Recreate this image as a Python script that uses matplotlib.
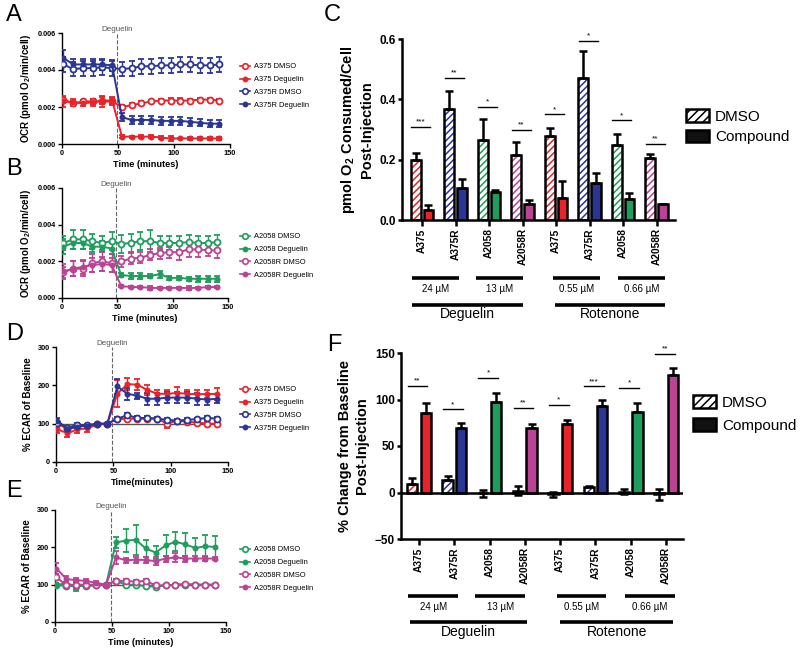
import numpy as np
import matplotlib
matplotlib.use("Agg")
import matplotlib.pyplot as plt
from matplotlib.lines import Line2D
from matplotlib.patches import Patch
from matplotlib.transforms import blended_transform_factory

plt.rcParams["font.family"] = ["Liberation Sans", "DejaVu Sans"]
plt.rcParams["mathtext.fontset"] = "custom"
plt.rcParams["mathtext.rm"] = "Liberation Sans"
plt.rcParams["mathtext.bf"] = "Liberation Sans:bold"
plt.rcParams["hatch.linewidth"] = 1.1

RED = "#e8232a"
BLUE = "#2b3594"
GREEN = "#1f9d5c"
MAG = "#bb4394"

# time points (minutes)
t = [1.3, 10.0, 18.7, 27.4, 36.1, 44.8, 53.5, 62.2, 70.9, 79.6, 88.3, 97.0, 105.7, 114.4, 123.1, 131.8, 140.5]

# ---- A: OCR (x1e-3 pmol O2/min/cell)
a375_dmso = [2.4, 2.2, 2.3, 2.3, 2.3, 2.3, 2.0, 2.1, 2.2, 2.3, 2.35, 2.35, 2.35, 2.35, 2.4, 2.4, 2.35]
a375_dmso_err = [0.15, 0.1, 0.1, 0.15, 0.3, 0.2, 0.1, 0.1, 0.1, 0.1, 0.1, 0.15, 0.15, 0.1, 0.1, 0.1, 0.1]
a375_deg = [2.3, 2.25, 2.2, 2.25, 2.35, 2.35, 0.4, 0.4, 0.4, 0.4, 0.35, 0.3, 0.3, 0.3, 0.3, 0.3, 0.3]
a375_deg_err = [0.3, 0.2, 0.15, 0.2, 0.2, 0.2, 0.1, 0.05, 0.1, 0.1, 0.1, 0.15, 0.05, 0.1, 0.1, 0.1, 0.1]
a375r_dmso = [4.3, 4.05, 4.1, 4.1, 4.15, 4.1, 4.05, 4.1, 4.2, 4.2, 4.25, 4.25, 4.3, 4.3, 4.25, 4.25, 4.3]
a375r_dmso_err = [0.4] * 17
a375r_deg = [4.65, 4.3, 4.3, 4.3, 4.3, 4.25, 1.45, 1.3, 1.3, 1.3, 1.25, 1.25, 1.25, 1.2, 1.15, 1.1, 1.1]
a375r_deg_err = [0.45, 0.3, 0.3, 0.3, 0.3, 0.3, 0.2, 0.2, 0.2, 0.2, 0.2, 0.2, 0.2, 0.2, 0.2, 0.2, 0.2]

# ---- B: OCR (x1e-3)
a2058_dmso = [3.0, 3.2, 3.2, 3.1, 3.0, 3.1, 2.95, 3.0, 3.1, 3.1, 3.0, 3.0, 3.0, 3.05, 3.0, 3.0, 3.05]
a2058_dmso_err = [0.4, 0.5, 0.5, 0.4, 0.4, 0.5, 0.5, 0.5, 0.5, 0.6, 0.4, 0.4, 0.4, 0.4, 0.4, 0.4, 0.4]
a2058_deg = [2.8, 3.0, 3.0, 2.8, 2.8, 2.7, 1.25, 1.2, 1.2, 1.2, 1.3, 1.1, 1.1, 1.05, 1.05, 1.05, 1.05]
a2058_deg_err = [0.4, 0.3, 0.3, 0.3, 0.3, 0.3, 0.1, 0.15, 0.15, 0.1, 0.2, 0.1, 0.1, 0.1, 0.15, 0.15, 0.15]
a2058r_dmso = [1.4, 1.6, 1.6, 1.9, 2.0, 1.9, 2.0, 2.15, 2.2, 2.35, 2.45, 2.5, 2.5, 2.65, 2.65, 2.6, 2.6]
a2058r_dmso_err = [0.3, 0.4, 0.4, 0.5, 0.5, 0.5, 0.3, 0.3, 0.3, 0.3, 0.3, 0.3, 0.4, 0.4, 0.4, 0.3, 0.4]
a2058r_deg = [1.45, 1.6, 1.7, 1.8, 1.85, 1.8, 0.65, 0.6, 0.6, 0.55, 0.55, 0.55, 0.55, 0.55, 0.55, 0.6, 0.6]
a2058r_deg_err = [0.4, 0.4, 0.4, 0.4, 0.4, 0.4, 0.05, 0.05, 0.05, 0.1, 0.05, 0.05, 0.05, 0.1, 0.05, 0.05, 0.05]

# ---- D: % ECAR of baseline
d_a375_dmso = [100, 87, 95, 95, 98, 100, 112, 113, 113, 113, 113, 100, 108, 105, 103, 100, 100]
d_a375_dmso_err = [8, 5, 5, 5, 3, 2, 5, 4, 4, 4, 4, 10, 5, 5, 5, 4, 4]
d_a375_deg = [85, 75, 85, 88, 98, 100, 178, 203, 202, 188, 178, 178, 180, 178, 177, 177, 178]
d_a375_deg_err = [10, 10, 10, 10, 5, 3, 35, 15, 15, 12, 10, 10, 15, 10, 10, 10, 15]
d_a375r_dmso = [103, 90, 97, 96, 100, 100, 113, 122, 115, 115, 113, 110, 108, 110, 112, 115, 113]
d_a375r_dmso_err = [5, 5, 4, 4, 3, 2, 5, 5, 4, 4, 4, 4, 4, 4, 4, 5, 5]
d_a375r_deg = [108, 85, 92, 95, 100, 100, 197, 178, 173, 165, 165, 168, 168, 168, 165, 163, 165]
d_a375r_deg_err = [8, 6, 6, 5, 3, 2, 20, 15, 8, 15, 15, 15, 15, 15, 15, 15, 12]

# ---- E: % ECAR of baseline
e_a2058_dmso = [100, 97, 96, 97, 98, 100, 110, 100, 100, 96, 95, 98, 100, 100, 100, 100, 100]
e_a2058_dmso_err = [3, 3, 12, 5, 3, 2, 4, 3, 3, 3, 5, 3, 3, 3, 3, 3, 3]
e_a2058_deg = [100, 103, 97, 97, 100, 100, 213, 218, 220, 197, 186, 205, 215, 208, 198, 203, 201]
e_a2058_deg_err = [5, 5, 8, 5, 5, 3, 15, 30, 40, 22, 18, 28, 25, 30, 28, 30, 30]
e_a2058r_dmso = [120, 98, 100, 100, 100, 100, 110, 110, 108, 110, 98, 98, 100, 102, 100, 100, 100]
e_a2058r_dmso_err = [8, 4, 4, 4, 3, 2, 5, 4, 4, 4, 3, 3, 3, 3, 3, 3, 3]
e_a2058r_deg = [143, 115, 112, 110, 105, 100, 173, 165, 167, 166, 163, 170, 173, 170, 170, 170, 170]
e_a2058r_deg_err = [14, 8, 6, 6, 5, 2, 18, 6, 8, 8, 10, 8, 12, 8, 6, 6, 5]

# ---- C / F bars
cells = ["A375", "A375R", "A2058", "A2058R", "A375", "A375R", "A2058", "A2058R"]
c_dmso = [0.200, 0.367, 0.265, 0.215, 0.278, 0.472, 0.247, 0.206]
c_dmso_err = [0.022, 0.060, 0.070, 0.045, 0.028, 0.087, 0.039, 0.013]
c_comp = [0.033, 0.105, 0.094, 0.053, 0.072, 0.122, 0.070, 0.052]
c_comp_err = [0.016, 0.031, 0.007, 0.013, 0.056, 0.034, 0.021, 0.002]
c_sig_y = [0.308, 0.472, 0.376, 0.300, 0.350, 0.594, 0.330, 0.253]
c_sig = ["***", "**", "*", "**", "*", "*", "*", "**"]

f_dmso = [9.3, 13.6, -1.0, 2.0, -2.0, 5.7, 1.0, -2.0]
f_dmso_lo = [0, 0, 4, 5, 3, 0, 3, 6]
f_dmso_hi = [6, 4, 4, 5, 3, 1.5, 3, 6]
f_comp = [86, 69.6, 97.5, 69.6, 73.2, 92.5, 87, 126.8]
f_comp_err = [10.4, 5.4, 10, 3.6, 4.7, 6.5, 8.7, 6.8]
f_sig_y = [114.6, 89.3, 123, 90.7, 94, 114, 112.9, 149]
f_sig = ["**", "*", "*", "**", "*", "***", "*", "**"]

bar_colors = [RED, BLUE, GREEN, MAG, RED, BLUE, GREEN, MAG]

fig = plt.figure(figsize=(8, 6.52), dpi=100)


def box(l, tp, r, b):
    return [l / 800, 1 - b / 652, (r - l) / 800, (b - tp) / 652]


def fy(y):
    return 1 - y / 652


def style_axes(ax, lw, labelsize):
    for s in ["top", "right"]:
        ax.spines[s].set_visible(False)
    for s in ["left", "bottom"]:
        ax.spines[s].set_linewidth(lw)
    ax.tick_params(direction="out", length=3, width=lw, labelsize=labelsize, pad=1.5)


def ts_panel(ax, series, ylim, yticks, ylabels, ylabel, xlabel, legend_xy, hline=False):
    handles = []
    if hline:
        ax.plot([0, 140], [100, 100], color="#555555", lw=1.0, zorder=1)
    for y, e, c, filled, lab in series:
        ax.errorbar(t, y, yerr=e, color=c, marker="o", ms=3.0 if filled else 4.3,
                    mfc=c if filled else "white", mec=c, mew=1.3, lw=1.4,
                    elinewidth=1.0, capsize=2.2, capthick=1.0, zorder=3)
        handles.append(Line2D([], [], color=c, marker="o", ms=3.0 if filled else 4.0,
                              mfc=c if filled else "white", mec=c, mew=1.2, lw=1.2, label=lab))
    ax.axvline(49, color="#666666", ls="--", lw=0.8, zorder=0)
    ax.text(49, ylim[1], "Deguelin", ha="center", va="bottom", fontsize=5.8, color="#555555")
    ax.set_xlim(0, 150)
    ax.set_ylim(*ylim)
    ax.set_xticks([0, 50, 100, 150])
    ax.set_yticks(yticks)
    ax.set_yticklabels(ylabels)
    style_axes(ax, 1.0, 5.3)
    for lab in ax.get_xticklabels() + ax.get_yticklabels():
        lab.set_fontweight("bold")
    ax.set_ylabel(ylabel, fontsize=7, fontweight="bold", labelpad=3)
    ax.set_xlabel(xlabel, fontsize=6.6, fontweight="bold", labelpad=2)
    fig.legend(handles=handles, loc="upper left", bbox_to_anchor=legend_xy, frameon=False,
               fontsize=5.4, handlelength=1.3, handletextpad=0.5, labelspacing=0.75,
               borderpad=0, borderaxespad=0)


ax_a = fig.add_axes(box(62, 33, 230, 144))
ts_panel(ax_a,
         [(np.array(a375_dmso) * 1e-3, np.array(a375_dmso_err) * 1e-3, RED, False, "A375 DMSO"),
          (np.array(a375_deg) * 1e-3, np.array(a375_deg_err) * 1e-3, RED, True, "A375 Deguelin"),
          (np.array(a375r_dmso) * 1e-3, np.array(a375r_dmso_err) * 1e-3, BLUE, False, "A375R DMSO"),
          (np.array(a375r_deg) * 1e-3, np.array(a375r_deg_err) * 1e-3, BLUE, True, "A375R Deguelin")],
         (0, 0.006), [0, 0.002, 0.004, 0.006], ["0.000", "0.002", "0.004", "0.006"],
         r"OCR (pmol O$_\mathbf{2}$/min/cell)", "Time (minutes)", (240 / 800, fy(63)))

ax_b = fig.add_axes(box(62, 188, 228, 298))
ts_panel(ax_b,
         [(np.array(a2058_dmso) * 1e-3, np.array(a2058_dmso_err) * 1e-3, GREEN, False, "A2058 DMSO"),
          (np.array(a2058_deg) * 1e-3, np.array(a2058_deg_err) * 1e-3, GREEN, True, "A2058 Deguelin"),
          (np.array(a2058r_dmso) * 1e-3, np.array(a2058r_dmso_err) * 1e-3, MAG, False, "A2058R DMSO"),
          (np.array(a2058r_deg) * 1e-3, np.array(a2058r_deg_err) * 1e-3, MAG, True, "A2058R Deguelin")],
         (0, 0.006), [0, 0.002, 0.004, 0.006], ["0.000", "0.002", "0.004", "0.006"],
         r"OCR (pmol O$_\mathbf{2}$/min/cell)", "Time (minutes)", (240 / 800, fy(233)))

ax_d = fig.add_axes(box(56, 347, 228, 462))
ts_panel(ax_d,
         [(d_a375_dmso, d_a375_dmso_err, RED, False, "A375 DMSO"),
          (d_a375_deg, d_a375_deg_err, RED, True, "A375 Deguelin"),
          (d_a375r_dmso, d_a375r_dmso_err, BLUE, False, "A375R DMSO"),
          (d_a375r_deg, d_a375r_deg_err, BLUE, True, "A375R Deguelin")],
         (0, 300), [0, 100, 200, 300], ["0", "100", "200", "300"],
         "% ECAR of Baseline", "Time(minutes)", (240 / 800, fy(386)), hline=True)

ax_e = fig.add_axes(box(55, 510, 226, 622))
ts_panel(ax_e,
         [(e_a2058_dmso, e_a2058_dmso_err, GREEN, False, "A2058 DMSO"),
          (e_a2058_deg, e_a2058_deg_err, GREEN, True, "A2058 Deguelin"),
          (e_a2058r_dmso, e_a2058r_dmso_err, MAG, False, "A2058R DMSO"),
          (e_a2058r_deg, e_a2058r_deg_err, MAG, True, "A2058R Deguelin")],
         (0, 300), [0, 100, 200, 300], ["0", "100", "200", "300"],
         "% ECAR of Baseline", "Time (minutes)", (240 / 800, fy(546)), hline=True)


def bar_panel(ax, dmso, dmso_lo, dmso_hi, comp, comp_err, sig_y, sig, xlim, ylim, yticks, ylabel):
    x = np.arange(len(cells))
    xd = x - 0.19
    xc = x + 0.19
    w = 0.29
    ax.bar(xd, dmso, w, color="white", edgecolor=bar_colors, hatch="/////", lw=0, zorder=2)
    ax.bar(xd, dmso, w, fill=False, edgecolor="black", lw=1.8, zorder=3)
    ax.errorbar(xd, dmso, yerr=[dmso_lo, dmso_hi], fmt="none", ecolor="black",
                elinewidth=1.8, capsize=3, capthick=1.8, zorder=4)
    ax.bar(xc, comp, w, color=bar_colors, edgecolor="black", lw=1.8, zorder=3)
    ax.errorbar(xc, comp, yerr=[[0] * len(comp), comp_err], fmt="none", ecolor="black",
                elinewidth=1.8, capsize=3, capthick=1.8, zorder=4)
    for i in range(len(cells)):
        ax.plot([i - 0.32, i + 0.24], [sig_y[i], sig_y[i]], color="black", lw=1.0, clip_on=False)
        ax.text(i - 0.04, sig_y[i] + (ylim[1] - ylim[0]) * 0.008, sig[i], ha="center",
                va="bottom", fontsize=6)
    ax.set_xlim(*xlim)
    ax.set_ylim(*ylim)
    ax.set_yticks(yticks)
    ax.set_xticks(x)
    ax.set_xticklabels(cells, rotation=90)
    style_axes(ax, 1.8, 8.5)
    ax.tick_params(axis="x", labelsize=7.3, length=4, pad=2)
    for lab in ax.get_xticklabels() + ax.get_yticklabels():
        lab.set_fontweight("bold")
    ax.set_ylabel(ylabel, fontsize=10.5, fontweight="bold", labelpad=4, linespacing=1.25)


def brackets(ax, y_dose, y_dose_txt, y_comp, y_comp_txt, spans):
    tr = blended_transform_factory(ax.transData, fig.transFigure)
    doses = [("24 \u00b5M", -0.3, 1.1), ("13 \u00b5M", 1.6, 3.0),
             ("0.55 \u00b5M", 3.9, 5.3), ("0.66 \u00b5M", 5.85, 7.25)]
    for lab, x0, x1 in doses:
        ax.plot([x0, x1], [fy(y_dose)] * 2, color="black", lw=2.6, transform=tr, clip_on=False,
                solid_capstyle="butt")
        ax.text((x0 + x1) / 2, fy(y_dose_txt), lab, ha="center", va="center", fontsize=7,
                transform=tr)
    for lab, x0, x1 in spans:
        ax.plot([x0, x1], [fy(y_comp)] * 2, color="black", lw=2.6, transform=tr, clip_on=False,
                solid_capstyle="butt")
        ax.text((x0 + x1) / 2, fy(y_comp_txt), lab, ha="center", va="center", fontsize=10,
                transform=tr)


ax_c = fig.add_axes(box(402, 39, 675, 220))
bar_panel(ax_c, c_dmso, [0] * 8, c_dmso_err, c_comp, c_comp_err, c_sig_y, c_sig,
          (-0.6, 7.55), (0, 0.6), [0, 0.2, 0.4, 0.6],
          "pmol O$_\\mathbf{2}$ Consumed/Cell\nPost-Injection")
ax_c.set_yticklabels(["0.0", "0.2", "0.4", "0.6"])
for lab in ax_c.get_yticklabels():
    lab.set_fontweight("bold")
brackets(ax_c, 278, 289, 305, 314, [("Deguelin", -0.3, 3.0), ("Rotenone", 3.97, 7.25)])

ax_f = fig.add_axes(box(401, 353, 683, 539))
bar_panel(ax_f, f_dmso, f_dmso_lo, f_dmso_hi, f_comp, f_comp_err, f_sig_y, f_sig,
          (-0.51, 7.48), (-50, 150), [-50, 0, 50, 100, 150],
          "% Change from Baseline\nPost-Injection")
ax_f.axhline(0, color="black", lw=1.8, zorder=5)
brackets(ax_f, 596, 607, 622, 632, [("Deguelin", -0.25, 3.05), ("Rotenone", 4.0, 7.2)])

leg_handles = [Patch(facecolor="white", edgecolor="black", hatch="////", lw=1.8, label="DMSO"),
               Patch(facecolor="#111111", edgecolor="black", lw=1.8, label="Compound")]
fig.legend(handles=leg_handles, loc="upper left", bbox_to_anchor=(686 / 800, fy(109)),
           frameon=False, fontsize=11, handlelength=1.5, handleheight=0.9,
           handletextpad=0.4, labelspacing=0.4, borderpad=0, borderaxespad=0)
fig.legend(handles=leg_handles, loc="upper left", bbox_to_anchor=(693 / 800, fy(395)),
           frameon=False, fontsize=11, handlelength=1.5, handleheight=0.9,
           handletextpad=0.4, labelspacing=0.55, borderpad=0, borderaxespad=0)

# panel letters
for letter, x, y in [("A", 6, 4), ("B", 6, 158), ("C", 324, 4), ("D", 6, 323),
                     ("E", 6, 480), ("F", 327, 334)]:
    fig.text(x / 800, fy(y), letter, fontsize=17, va="top", ha="left")

fig.savefig("out.png", dpi=100)
